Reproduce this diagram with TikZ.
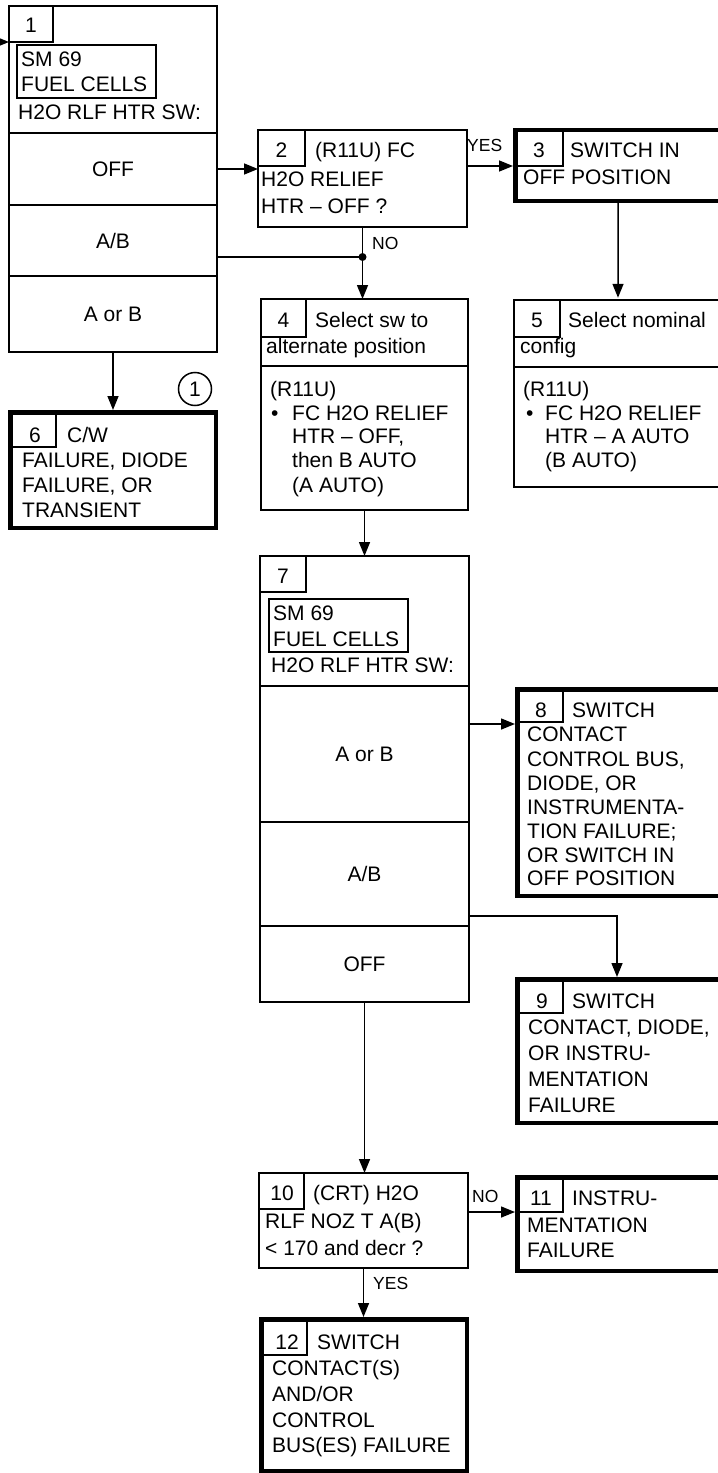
\documentclass[tikz,border=0pt]{standalone}
\usepackage{fontspec}
\setmainfont{Liberation Sans}
\usetikzlibrary{arrows.meta}
\newcommand\fmain{\fontsize{21bp}{25bp}\selectfont}
\newcommand\fsmall{\fontsize{17.5bp}{20bp}\selectfont}
\newcommand\bx[6]{\node[#2, minimum width=#5bp, minimum height=#6bp] (#1) at (#3,#4) {};}
\tikzset{
 box/.style={draw, rectangle, line width=2bp, inner sep=0, outer sep=0, anchor=north west},
 tbox/.style={box, line width=4.5bp},
 nbox/.style={box, line width=1.5bp},
 rowbox/.style={box, font=\fmain, text height=15bp, text depth=0pt},
 tx/.style={anchor=base west, inner sep=0, font=\fmain},
 nm/.style={anchor=base, inner sep=0, font=\fmain},
 lbl/.style={anchor=base west, inner sep=0, font=\fsmall},
 arr/.style={line width=1.5bp, -{Triangle[length=14bp,width=11bp]}},
 arrT/.style={arr, shorten >=2.25bp},
 ln/.style={line width=1.5bp},
}
\begin{document}
\begin{tikzpicture}[x=1bp,y=-1bp]
\useasboundingbox (0,0) rectangle (718,1473);
\clip (0,0) rectangle (718,1473);

% ---------- box 1 ----------
\node[rowbox, minimum width=208bp, minimum height=72bp] (r1off) at (9,133) {OFF};
\node[rowbox, minimum width=208bp, minimum height=71bp] (r1ab) at (9,205) {A/B};
\node[rowbox, minimum width=208bp, minimum height=76bp] (r1aob) at (9,276) {A or B};
\bx{b1}{box}{9}{6}{208}{346}
\bx{n1}{nbox}{9}{6}{44}{36}
\bx{s1}{nbox}{17}{45}{139}{53}
\node[nm] (t1n) at (31,33) {1};
\node[tx] (t1a) at (21,67) {SM 69};
\node[tx] (t1b) at (21,92) {FUEL CELLS};
\node[tx] (t1c) at (18,120) {H2O RLF HTR SW:};

% ---------- box 2 ----------
\bx{b2}{box}{258}{130}{209}{97}
\bx{n2}{nbox}{258}{130}{47}{36}
\node[nm] (t2n) at (281.5,158) {2};
\node[tx] (t2a) at (315,158) {(R11U) FC};
\node[tx] (t2b) at (261,187) {H2O RELIEF};
\node[tx] (t2c) at (261,214) {HTR – OFF ?};

% ---------- box 3 ----------
\bx{b3}{tbox}{515.25}{130.25}{205.5}{70.5}
\bx{n3}{nbox}{515.5}{130.5}{47.5}{35.5}
\node[nm] (t3n) at (539,158) {3};
\node[tx] (t3a) at (570,158) {SWITCH IN};
\node[tx] (t3b) at (523,185) {OFF POSITION};

% ---------- box 4 ----------
\bx{b4}{box}{261}{299}{207}{211}
\bx{h4}{box}{261}{299}{207}{67}
\bx{n4}{nbox}{261}{299}{45}{38}
\node[nm] (t4n) at (283.5,327) {4};
\node[tx] (t4a) at (315,327) {Select sw to};
\node[tx] (t4b) at (266,353) {alternate position};
\node[tx] (t4c) at (270,396) {(R11U)};
\node[tx] (t4d) at (271,420) {•};
\node[tx] (t4e) at (292,420) {FC H2O RELIEF};
\node[tx] (t4f) at (292,443) {HTR – OFF,};
\node[tx] (t4g) at (292,467) {then B AUTO};
\node[tx] (t4h) at (292,492) {(A AUTO)};

% ---------- box 5 ----------
\bx{b5}{box}{514}{300}{208}{187}
\bx{h5}{box}{514}{300}{208}{67}
\bx{n5}{nbox}{514}{300}{46}{37}
\node[nm] (t5n) at (537,327) {5};
\node[tx] (t5a) at (568,327) {Select nominal};
\node[tx] (t5b) at (520,353) {config};
\node[tx] (t5c) at (523,396) {(R11U)};
\node[tx] (t5d) at (526,420) {•};
\node[tx] (t5e) at (545,420) {FC H2O RELIEF};
\node[tx] (t5f) at (545,443) {HTR – A AUTO};
\node[tx] (t5g) at (545,467) {(B AUTO)};

% ---------- box 6 ----------
\bx{b6}{tbox}{10.25}{412.25}{205.5}{115.5}
\bx{n6}{nbox}{12}{412}{44}{35}
\node[nm] (t6n) at (35,442) {6};
\node[tx] (t6a) at (67,442) {C/W};
\node[tx] (t6b) at (22,467) {FAILURE, DIODE};
\node[tx] (t6c) at (22,492) {FAILURE, OR};
\node[tx] (t6d) at (22,517) {TRANSIENT};
\node[draw, circle, line width=1.5bp, minimum size=33bp, inner sep=0, font=\fmain] (c1) at (195,389) {1};

% ---------- box 7 ----------
\node[rowbox, minimum width=209bp, minimum height=136bp] (r7a) at (260,686) {A or B};
\node[rowbox, minimum width=209bp, minimum height=104bp] (r7ab) at (260,822) {A/B};
\node[rowbox, minimum width=209bp, minimum height=76bp] (r7off) at (260,926) {OFF};
\bx{b7}{box}{260}{556}{209}{446}
\bx{n7}{nbox}{260}{556}{46}{36}
\bx{s7}{nbox}{269}{599}{139}{53}
\node[nm] (t7n) at (283,583) {7};
\node[tx] (t7a) at (273,620) {SM 69};
\node[tx] (t7b) at (273,646) {FUEL CELLS};
\node[tx] (t7c) at (271,672) {H2O RLF HTR SW:};

% ---------- box 8 ----------
\bx{b8}{tbox}{517.25}{689.25}{212.75}{206.5}
\bx{n8}{nbox}{517}{689}{46}{33}
\node[nm] (t8n) at (541,717) {8};
\node[tx] (t8a) at (572,717) {SWITCH};
\node[tx] (t8b) at (527,741) {CONTACT};
\node[tx] (t8c) at (527,766) {CONTROL BUS,};
\node[tx] (t8d) at (527,790) {DIODE, OR};
\node[tx] (t8e) at (527,814) {INSTRUMENTA-};
\node[tx] (t8f) at (527,838) {TION FAILURE;};
\node[tx] (t8g) at (527,862) {OR SWITCH IN};
\node[tx] (t8h) at (527,885) {OFF POSITION};

% ---------- box 9 ----------
\bx{b9}{tbox}{517.25}{979.25}{212.75}{143.5}
\bx{n9}{nbox}{517}{979}{46}{34}
\node[nm] (t9n) at (542,1008) {9};
\node[tx] (t9a) at (572,1008) {SWITCH};
\node[tx] (t9b) at (528,1034) {CONTACT, DIODE,};
\node[tx] (t9c) at (528,1060) {OR INSTRU-};
\node[tx] (t9d) at (528,1086) {MENTATION};
\node[tx] (t9e) at (528,1112) {FAILURE};

% ---------- box 10 ----------
\bx{b10}{box}{259}{1173}{209}{95}
\bx{n10}{nbox}{259}{1173}{45}{36}
\node[nm] (t10n) at (282,1200) {10};
\node[tx] (t10a) at (313,1200) {(CRT) H2O};
\node[tx] (t10b) at (265,1228) {RLF NOZ T A(B)};
\node[tx] (t10c) at (265,1255) {< 170 and decr ?};

% ---------- box 11 ----------
\bx{b11}{tbox}{517.25}{1177.25}{212.75}{93.5}
\bx{n11}{nbox}{517}{1177}{46}{35}
\node[nm] (t11n) at (541,1205) {11};
\node[tx] (t11a) at (572,1205) {INSTRU-};
\node[tx] (t11b) at (527,1232) {MENTATION};
\node[tx] (t11c) at (527,1257) {FAILURE};

% ---------- box 12 ----------
\bx{b12}{tbox}{261.25}{1319.25}{205.5}{151.5}
\bx{n12}{nbox}{262}{1319}{45}{36}
\node[nm] (t12n) at (287,1349) {12};
\node[tx] (t12a) at (317,1349) {SWITCH};
\node[tx] (t12b) at (272,1375) {CONTACT(S)};
\node[tx] (t12c) at (272,1401) {AND/OR};
\node[tx] (t12d) at (272,1427) {CONTROL};
\node[tx] (t12e) at (272,1452) {BUS(ES) FAILURE};

% ---------- labels ----------
\node[lbl] (lyes1) at (467,152) {YES};
\node[lbl] (lno1) at (372,249) {NO};
\node[lbl] (lno2) at (472,1202) {NO};
\node[lbl] (lyes2) at (373,1289) {YES};

% ---------- connectors ----------
\coordinate (cin) at (-6,42);
\coordinate (j) at (362.5,257);
\coordinate (k8) at (0,724);
\coordinate (k9) at (617,916);
\draw[arr] (cin) -- (cin -| b1.west);
\draw[arr] (r1off.east) -- (r1off.east -| b2.west);
\draw[arrT] (b2.east |- n3.south) -- (b3.west |- n3.south);
\draw[arrT] (b3.south) -- (b5.north);
\draw[ln] (j -| b1.east) -- (j);
\fill (j) circle (4bp);
\draw[arr] (b2.south) -- (b2.south |- b4.north);
\draw[arrT] (b1.south) -- (b1.south |- b6.north);
\draw[arr] (b4.south) -- (b7.north);
\draw[arrT] (b7.east |- k8) -- (b8.west |- k8);
\draw[arrT] (k9 -| b7.east) -- (k9) -- (k9 |- b9.north);
\draw[arr] (b7.south) -- (b7.south |- b10.north);
\draw[arrT] (b10.east |- n11.south) -- (b11.west |- n11.south);
\draw[arrT] (b10.south) -- (b10.south |- b12.north);
\end{tikzpicture}
\end{document}
